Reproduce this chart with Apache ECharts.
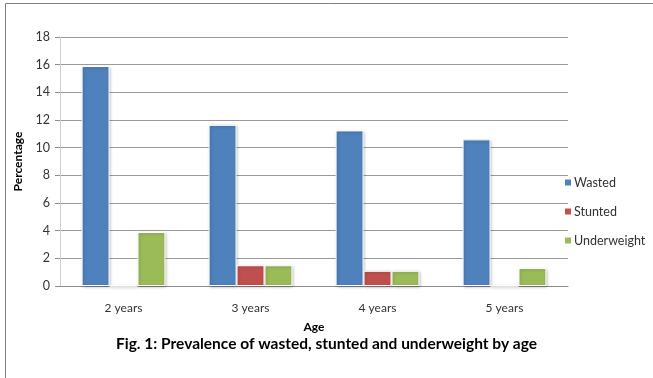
<!DOCTYPE html>
<html>
<head>
<meta charset="utf-8">
<script src="https://cdn.jsdelivr.net/npm/echarts@6/dist/echarts.min.js"></script>
<style>
  html, body { margin: 0; padding: 0; background: #fff; }
  #chart { width: 653px; height: 378px; }
</style>
</head>
<body>
<div id="chart"></div>
<script>
// Age groups and prevalence (%) per indicator
const ages = ['2 years', '3 years', '4 years', '5 years'];
const wasted = [15.9, 11.65, 11.25, 10.6];
const stunted = [0, 1.5, 1.1, 0];
const underweight = [3.9, 1.5, 1.1, 1.3];
const yTicks = { min: 0, max: 18, interval: 2 };

const FONT = 'Lato';
const chart = echarts.init(document.getElementById('chart'), null, { renderer: 'canvas' });

function barSeries(name, data, color) {
  return {
    name: name,
    type: 'bar',
    data: data,
    barGap: '0%',
    barCategoryGap: '34%',
    itemStyle: {
      color: color,
      borderColor: '#ffffff',
      borderWidth: 1,
      shadowColor: 'rgba(0,0,0,0.25)',
      shadowBlur: 3,
      shadowOffsetX: 1,
      shadowOffsetY: 1
    }
  };
}

chart.setOption({
  animation: false,
  textStyle: { fontFamily: FONT },
  graphic: [
    {
      // page frame (left and top edges visible)
      type: 'rect',
      shape: { x: 5.5, y: 3.5, width: 700, height: 400 },
      style: { fill: 'none', stroke: '#7f7f7f', lineWidth: 1 },
      z: -1
    },
    {
      type: 'text',
      left: 'center',
      top: 336,
      style: {
        text: 'Fig. 1: Prevalence of wasted, stunted and underweight by age',
        font: 'bold 15.5px ' + FONT,
        fill: '#000'
      }
    }
  ],
  grid: { left: 60, right: 85, top: 37, bottom: 92 },
  legend: {
    orient: 'vertical',
    left: 558,
    top: 171,
    itemWidth: 8,
    itemHeight: 8,
    itemGap: 16,
    icon: 'rect',
    textStyle: { fontSize: 12.5, color: '#333', fontFamily: FONT, padding: [0, 0, 0, -3] },
    data: ['Wasted', 'Stunted', 'Underweight']
  },
  xAxis: {
    type: 'category',
    data: ages,
    name: 'Age',
    nameLocation: 'middle',
    nameGap: 35,
    nameTextStyle: { fontWeight: 'bold', fontSize: 12, color: '#000', fontFamily: FONT },
    axisLine: { lineStyle: { color: '#8c8c8c' } },
    axisTick: { show: false },
    axisLabel: { fontSize: 12, color: '#333', margin: 16, fontFamily: FONT }
  },
  yAxis: {
    type: 'value',
    min: yTicks.min,
    max: yTicks.max,
    interval: yTicks.interval,
    name: 'Percentage',
    nameLocation: 'middle',
    nameGap: 34,
    nameTextStyle: { fontWeight: 'bold', fontSize: 12, color: '#000', fontFamily: FONT },
    axisLine: { show: true, lineStyle: { color: '#d0d0d0' } },
    axisTick: { show: true, length: 5, lineStyle: { color: '#8c8c8c' } },
    axisLabel: { fontSize: 12.5, color: '#333', margin: 10, fontFamily: FONT },
    splitLine: { lineStyle: { color: '#9a9a9a', width: 1 } }
  },
  series: [
    barSeries('Wasted', wasted, '#4f81bd'),
    barSeries('Stunted', stunted, '#c0504d'),
    barSeries('Underweight', underweight, '#9bbb59')
  ]
});
</script>
</body>
</html>
